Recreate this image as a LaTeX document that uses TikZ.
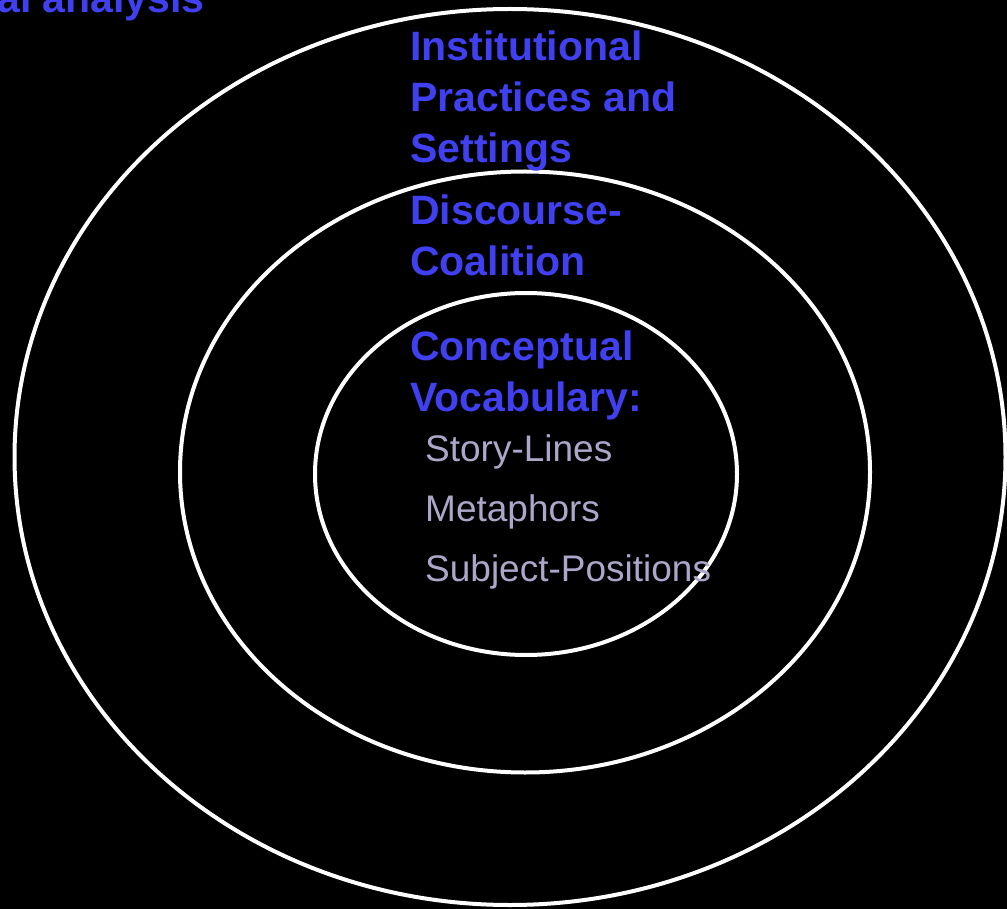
\documentclass[tikz,border=0pt]{standalone}
\usepackage{fontspec}
\setmainfont{Liberation Sans}
\usetikzlibrary{shapes.geometric}

\definecolor{labelblue}{RGB}{64,64,240}
\definecolor{itemgray}{RGB}{172,166,200}
\tikzset{
  ring/.style={ellipse,draw=white,line width=4pt,inner sep=0pt},
  heading/.style={text=labelblue,font=\fontsize{41}{51}\selectfont\bfseries,align=left,inner sep=0pt,anchor=base west},
  item/.style={text=itemgray,font=\fontsize{37}{60}\selectfont,align=left,inner sep=0pt,anchor=base west}
}

\begin{document}
\begin{tikzpicture}[x=1pt,y=-1pt]
\fill[black] (0,0) rectangle (1007,909);
\clip (0,0) rectangle (1007,909);
\useasboundingbox (0,0) rectangle (1007,909);
% rings
\node[ring,minimum width=991pt,minimum height=896pt] (outer) at (510,457) {};
\node[ring,minimum width=690pt,minimum height=601pt] (middle) at (525,472) {};
\node[ring,minimum width=422pt,minimum height=362pt] (inner) at (526,474) {};
% labels (anchored at the last line)
\node[heading,anchor=base east] (title) at (205,13) {al analysis};
\node[heading] (settings) at (410,163) {Institutional\\Practices and\\Settings};
\node[heading] (coalition) at (410,276) {Discourse-\\Coalition};
\node[heading] (vocab) at (410,411) {Conceptual\\Vocabulary:};
\node[item] (items) at (425,581) {Story-Lines\\Metaphors\\Subject-Positions};
\end{tikzpicture}
\end{document}
